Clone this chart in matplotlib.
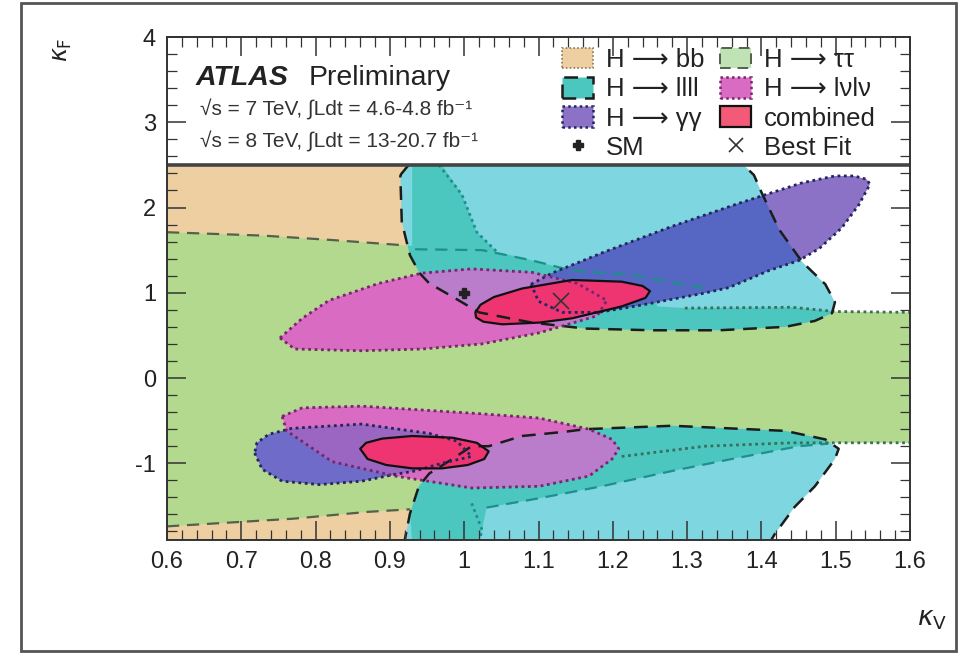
import matplotlib
matplotlib.use("Agg")
import matplotlib.pyplot as plt
from matplotlib.patches import Polygon, Rectangle, Patch
from matplotlib.lines import Line2D
from matplotlib.path import Path
from matplotlib.ticker import MultipleLocator
import numpy as np

plt.rcParams['font.family'] = ['Liberation Sans', 'DejaVu Sans']
plt.rcParams['mathtext.fontset'] = 'dejavusans'

# ---- 68% CL regions in the (kappa_V, kappa_F) plane ----
# H -> bb
BB_V = [0.60, 0.96, 0.96, 0.60]
BB_F = [-1.95, -1.95, 2.55, 2.55]

# H -> tautau (broad band)
TT_V = [0.60, 0.73, 0.82, 0.93, 0.93, 0.966, 0.997, 1.017, 1.044, 1.091, 1.145, 1.226, 1.25, 1.26,
        1.297, 1.441, 1.499, 1.60,
        1.60, 1.499, 1.45, 1.36, 1.28, 1.185, 1.101, 1.03, 1.024, 1.02, 0.93, 0.927, 0.87, 0.77, 0.60]
TT_F = [1.71, 1.67, 1.62, 1.55, 2.55, 2.55, 2.15, 1.71, 1.48, 1.38, 1.26, 1.19, 1.15, 0.84,
        0.82, 0.83, 0.78, 0.77,
        -0.76, -0.76, -0.80, -0.95, -1.09, -1.27, -1.41, -1.52, -1.78, -1.95, -1.95, -1.54, -1.57, -1.65, -1.74]

# H -> ZZ -> 4l, positive and negative kappa_F lobes
ZZU_V = [0.914, 0.93, 1.37, 1.39, 1.400, 1.424, 1.455, 1.486, 1.499, 1.495, 1.472, 1.432,
         1.343, 1.253, 1.163, 1.091, 1.02, 0.985, 0.953, 0.94, 0.927, 0.916]
ZZU_F = [2.38, 2.55, 2.55, 2.38, 2.18, 1.74, 1.36, 1.10, 0.89, 0.76, 0.67, 0.60,
         0.56, 0.56, 0.58, 0.65, 0.77, 0.95, 1.11, 1.23, 1.44, 1.83]
ZZL_V = [0.915, 0.92, 0.927, 0.939, 0.953, 0.984, 1.01, 1.033, 1.078, 1.136, 1.163, 1.28,
         1.432, 1.486, 1.504, 1.499, 1.472, 1.445, 1.418, 1.41]
ZZL_F = [-1.95, -1.90, -1.59, -1.27, -1.12, -0.95, -0.80, -0.80, -0.68, -0.63, -0.60, -0.56,
         -0.62, -0.72, -0.83, -0.95, -1.27, -1.51, -1.83, -1.95]

# H -> gamma gamma
GGU_V = [1.09, 1.118, 1.189, 1.28, 1.37, 1.455, 1.499, 1.525, 1.542, 1.546, 1.531, 1.508,
         1.478, 1.451, 1.41, 1.356, 1.32, 1.235, 1.181, 1.132, 1.10]
GGU_F = [1.10, 1.23, 1.48, 1.78, 2.05, 2.29, 2.37, 2.37, 2.33, 2.27, 2.03, 1.76,
         1.52, 1.38, 1.26, 1.06, 0.99, 0.85, 0.77, 0.77, 0.90]
GGL_V = [0.718, 0.728, 0.755, 0.805, 0.862, 0.907, 0.934, 0.97, 1.01, 0.99, 0.953, 0.862,
         0.768, 0.737, 0.721]
GGL_F = [-0.88, -1.07, -1.21, -1.25, -1.21, -1.13, -1.09, -1.00, -0.92, -0.74, -0.65, -0.54,
         -0.59, -0.66, -0.76]

# H -> WW -> lvlv
WWU_V = [0.752, 0.782, 0.818, 0.885, 0.943, 1.01, 1.091, 1.152, 1.192, 1.179, 1.101, 1.024,
         0.943, 0.862, 0.772]
WWU_F = [0.47, 0.70, 0.91, 1.11, 1.23, 1.28, 1.24, 1.11, 0.91, 0.73, 0.53, 0.40,
         0.34, 0.32, 0.34]
WWL_V = [0.755, 0.782, 0.862, 1.024, 1.101, 1.168, 1.199, 1.208, 1.199, 1.168, 1.101, 1.01,
         0.907, 0.822, 0.761]
WWL_F = [-0.45, -0.35, -0.33, -0.42, -0.47, -0.60, -0.72, -0.83, -0.95, -1.15, -1.27, -1.29,
         -1.15, -0.98, -0.62]

# combined
CU_V = [1.015, 1.022, 1.040, 1.078, 1.145, 1.212, 1.240, 1.250, 1.244, 1.212, 1.145, 1.101,
        1.051, 1.026, 1.016]
CU_F = [0.77, 0.86, 0.95, 1.05, 1.15, 1.13, 1.08, 1.02, 0.94, 0.84, 0.70, 0.65,
        0.63, 0.66, 0.71]
CL_V = [0.86, 0.868, 0.89, 0.93, 0.984, 1.017, 1.033, 1.027, 1.005, 0.97, 0.93, 0.895, 0.870]
CL_F = [-0.83, -0.76, -0.71, -0.68, -0.70, -0.76, -0.86, -0.95, -1.02, -1.06, -1.06, -1.02, -0.95]

# tautau contour lines
TT_DASH_UL = ([0.60, 0.73, 0.82, 0.914], [1.71, 1.67, 1.62, 1.56])
TT_DASH_UI = ([0.934, 1.024, 1.091, 1.145, 1.226, 1.324], [1.51, 1.50, 1.38, 1.26, 1.21, 1.05])
TT_DOT_UI = ([0.966, 0.997, 1.017, 1.044], [2.50, 2.15, 1.71, 1.48])
TT_DOT_UR = ([1.297, 1.441, 1.499, 1.60], [0.82, 0.83, 0.78, 0.77])
TT_DASH_LL = ([0.60, 0.77, 0.87, 0.927], [-1.74, -1.65, -1.57, -1.54])
TT_DASH_LI = ([1.03, 1.101, 1.185, 1.28, 1.36, 1.45, 1.49], [-1.52, -1.41, -1.27, -1.09, -0.95, -0.80, -0.77])
TT_DOT_LR = ([1.212, 1.324, 1.441, 1.499, 1.60], [-0.92, -0.80, -0.76, -0.76, -0.76])
TT_DOT_LI = ([1.01, 1.024, 1.02], [-1.47, -1.78, -1.92])

SM_POINT = (1.0, 1.0)
BEST_FIT = (1.13, 0.90)

X_TICKS = [0.6, 0.7, 0.8, 0.9, 1.0, 1.1, 1.2, 1.3, 1.4, 1.5, 1.6]
X_TICKLABELS = ['0.6', '0.7', '0.8', '0.9', '1', '1.1', '1.2', '1.3', '1.4', '1.5', '1.6']
Y_TICKS = [-1, 0, 1, 2, 3, 4]
Y_TICKLABELS = ['-1', '0', '1', '2', '3', '4']

LEGEND_LABELS = ['H ⟶ bb', 'H ⟶ llll', 'H ⟶ γγ', 'SM',
                 'H ⟶ ττ', 'H ⟶ lνlν', 'combined', 'Best Fit']

# colours
TAN = '#EECFA2'
GREEN = '#B3D98F'
CYAN = '#7DD6E0'
TEAL = '#4CC7BF'
PURPLE_W = '#8C72C6'
PURPLE_C = '#5567C3'
PURPLE_G = '#6E6CC8'
PINK_G = '#D96CC2'
PINK_C = '#BA7DCB'
PINK_P = '#9A66C2'
RED = '#EE3572'

fig = plt.figure(figsize=(9.68, 6.57), dpi=100)
ax = fig.add_axes([167 / 968, 1 - 540 / 657, 743 / 968, 503 / 657])
ax.set_xlim(0.6, 1.6)
ax.set_ylim(-1.9, 4.0)


def xy(v, f):
    return np.column_stack([v, f])


def fill(v, f, color, z, clip=None):
    p = Polygon(xy(v, f), closed=True, facecolor=color, edgecolor='none', zorder=z)
    ax.add_patch(p)
    if clip is not None:
        p.set_clip_path(Path(xy(*clip), closed=True), ax.transData)
    return p


def outline(v, f, color, ls, lw, z):
    ax.add_patch(Polygon(xy(v, f), closed=True, fill=False, edgecolor=color,
                         linestyle=ls, linewidth=lw, zorder=z, joinstyle='round'))


def line(pts, color, ls, lw, z):
    ax.plot(pts[0], pts[1], color=color, linestyle=ls, linewidth=lw, zorder=z)


DOT = (0, (1.0, 1.3))
DASH = (0, (5.5, 3.5))

# fills
fill(BB_V, BB_F, TAN, 1.0)
fill(TT_V, TT_F, GREEN, 1.1)
for v, f in [(ZZU_V, ZZU_F), (ZZL_V, ZZL_F)]:
    fill(v, f, CYAN, 1.2)
    fill(v, f, TEAL, 1.25, clip=(TT_V, TT_F))

fill(GGU_V, GGU_F, PURPLE_W, 1.3)
fill(GGU_V, GGU_F, PURPLE_C, 1.35, clip=(ZZU_V, ZZU_F))
fill(GGL_V, GGL_F, PURPLE_G, 1.3)

fill(WWU_V, WWU_F, PINK_G, 1.4)
fill(WWU_V, WWU_F, PINK_C, 1.45, clip=(ZZU_V, ZZU_F))
fill(WWU_V, WWU_F, PINK_P, 1.47, clip=(GGU_V, GGU_F))
fill(WWL_V, WWL_F, PINK_G, 1.4)
fill(WWL_V, WWL_F, PINK_C, 1.45, clip=(ZZL_V, ZZL_F))
fill(WWL_V, WWL_F, PINK_P, 1.47, clip=(GGL_V, GGL_F))

fill(CU_V, CU_F, RED, 1.6)
fill(CL_V, CL_F, RED, 1.6)

# contour lines
line(TT_DASH_UL, '#55604a', DASH, 1.6, 1.8)
line(TT_DASH_LL, '#55604a', DASH, 1.6, 1.8)
line(TT_DASH_UI, '#1f8f8a', DASH, 1.6, 1.8)
line(TT_DASH_LI, '#1f8f8a', DASH, 1.6, 1.8)
line(TT_DOT_UI, '#1f8f8a', DOT, 2.0, 1.8)
line(TT_DOT_LI, '#1f8f8a', DOT, 2.0, 1.8)
line(TT_DOT_UR, '#3a6f5a', DOT, 2.0, 1.8)
line(TT_DOT_LR, '#3a6f5a', DOT, 2.0, 1.8)

outline(ZZU_V, ZZU_F, '#1c1c1c', DASH, 1.8, 1.85)
outline(ZZL_V, ZZL_F, '#1c1c1c', DASH, 1.8, 1.85)
outline(GGU_V, GGU_F, '#23265e', DOT, 2.0, 1.85)
outline(GGL_V, GGL_F, '#23265e', DOT, 2.0, 1.85)
outline(WWU_V, WWU_F, '#7a2470', DOT, 2.0, 1.86)
outline(WWL_V, WWL_F, '#7a2470', DOT, 2.0, 1.86)
outline(CU_V, CU_F, '#111111', '-', 1.6, 1.9)
outline(CL_V, CL_F, '#111111', '-', 1.6, 1.9)

ax.plot(*SM_POINT, marker='P', color='#222222', markersize=7, linestyle='none', zorder=1.95)
ax.plot(*BEST_FIT, marker='x', color='#333333', markersize=11, markeredgewidth=1.2,
        linestyle='none', zorder=1.95)

# legend area above the contours
ax.add_patch(Rectangle((0.6, 2.5), 1.0, 1.5, facecolor='white', edgecolor='none', zorder=2.0))
ax.axhline(2.5, color='#444444', linewidth=2.6, zorder=2.05)

# axes styling
for sp in ax.spines.values():
    sp.set_linewidth(1.4)
    sp.set_color('#333333')
    sp.set_zorder(5)
ax.xaxis.set_zorder(5)
ax.yaxis.set_zorder(5)
ax.set_xticks(X_TICKS)
ax.set_xticklabels(X_TICKLABELS)
ax.set_yticks(Y_TICKS)
ax.set_yticklabels(Y_TICKLABELS)
ax.xaxis.set_minor_locator(MultipleLocator(0.02))
ax.yaxis.set_minor_locator(MultipleLocator(0.2))
ax.tick_params(which='both', direction='in', top=True, right=True, colors='#333333',
               labelcolor='#222222', labelsize=17)
ax.tick_params(which='major', length=14, width=1.1, pad=8)
ax.tick_params(which='minor', length=7, width=0.9)

fig.text(63 / 968, 1 - 50 / 657, r'$\kappa_{\rm F}$', fontsize=17, rotation=90,
         ha='center', va='center', color='#222222')
fig.text(932 / 968, 1 - 620 / 657, r'$\kappa_{\rm V}$', fontsize=19,
         ha='center', va='center', color='#222222')

# labels
ax.text(0.038, 0.918, 'ATLAS', transform=ax.transAxes, fontsize=20.5, fontweight='bold',
        fontstyle='italic', color='#222222', va='center', zorder=6)
ax.text(0.19, 0.918, 'Preliminary', transform=ax.transAxes, fontsize=20.5,
        color='#222222', va='center', zorder=6)
ax.text(0.044, 0.856, '√s = 7 TeV, ∫Ldt = 4.6-4.8 fb⁻¹', transform=ax.transAxes, fontsize=15,
        color='#333333', va='center', zorder=6)
ax.text(0.044, 0.793, '√s = 8 TeV, ∫Ldt = 13-20.7 fb⁻¹', transform=ax.transAxes, fontsize=15,
        color='#333333', va='center', zorder=6)

handles = [
    Patch(facecolor=TAN, edgecolor='#8a7a5a', linestyle=DOT, linewidth=1.2),
    Patch(facecolor=TEAL, edgecolor='#1c1c1c', linestyle=DASH, linewidth=1.8),
    Patch(facecolor=PURPLE_W, edgecolor='#23265e', linestyle=DOT, linewidth=1.8),
    Line2D([], [], marker='P', color='#222222', markersize=7, linestyle='none'),
    Patch(facecolor='#BFE3B5', edgecolor='#55604a', linestyle=DASH, linewidth=1.4),
    Patch(facecolor=PINK_G, edgecolor='#7a2470', linestyle=DOT, linewidth=1.8),
    Patch(facecolor='#F25A78', edgecolor='#111111', linewidth=1.6),
    Line2D([], [], marker='x', color='#333333', markersize=10, markeredgewidth=1.2, linestyle='none'),
]
leg = ax.legend(handles, LEGEND_LABELS, loc='upper left', bbox_to_anchor=(0.515, 1.004), ncol=2,
                frameon=False, fontsize=18.5, handlelength=1.2, handleheight=0.85,
                handletextpad=0.5, columnspacing=0.6, labelspacing=0.2, borderaxespad=0.1)
leg.set_zorder(6)
for t in leg.get_texts():
    t.set_color('#222222')

# outer frame
fig.patches.append(Rectangle((21 / 968, 1 - 651 / 657), 935 / 968, 648 / 657,
                             transform=fig.transFigure, fill=False, edgecolor='#555555',
                             linewidth=2.0))

fig.savefig('out.png', dpi=100)
